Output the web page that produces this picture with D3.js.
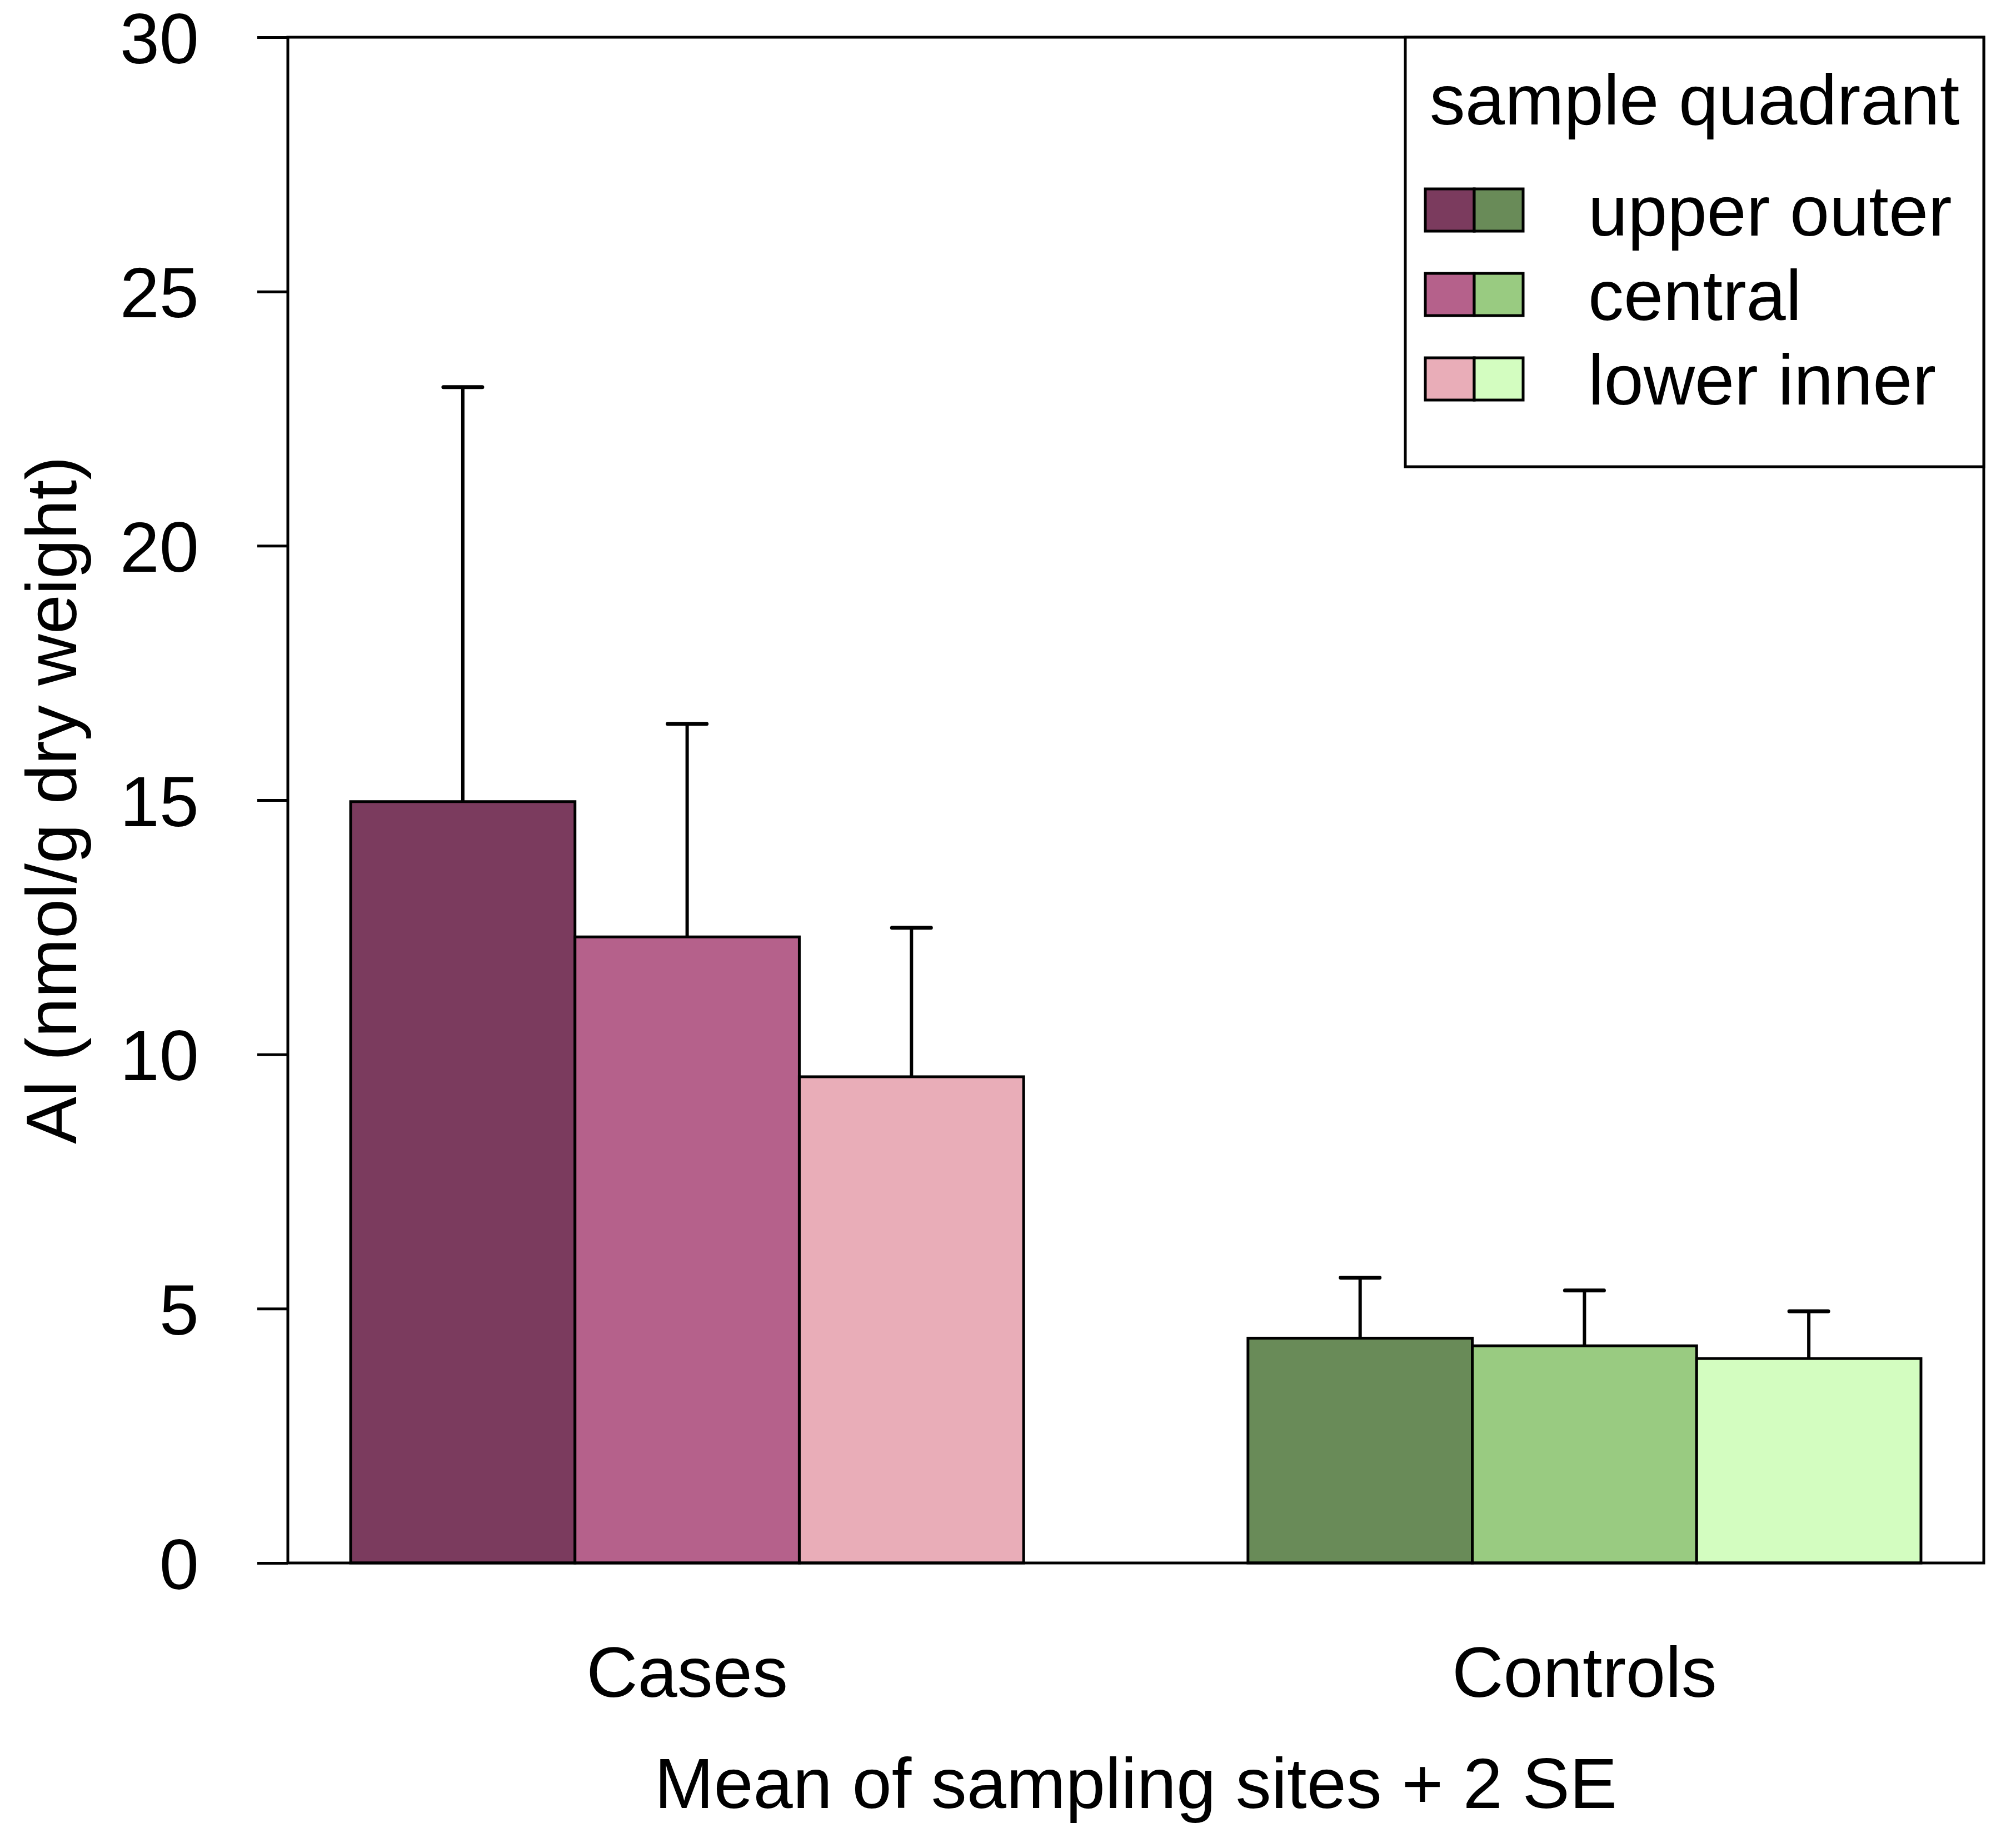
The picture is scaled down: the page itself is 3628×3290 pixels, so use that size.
<!DOCTYPE html>
<html>
<head>
<meta charset="utf-8">
<script src="https://cdn.jsdelivr.net/npm/d3@7"></script>
<style>
  html, body { margin: 0; padding: 0; background: #ffffff; }
  svg { display: block; }
  text { font-family: "Liberation Sans", Arial, Helvetica, sans-serif; fill: #000; }
</style>
</head>
<body>
<svg id="chart" width="3628" height="3290"></svg>
<script>
// ---- data ----
const categories = ["Cases", "Controls"];
const quadrants = ["upper outer", "central", "lower inner"];
const casesMeans = [14.97, 12.31, 9.56];
const casesUpper = [23.12, 16.50, 12.49];      // mean + 2 SE
const controlsMeans = [4.42, 4.27, 4.02];
const controlsUpper = [5.61, 5.36, 4.95];      // mean + 2 SE
const casesColors = ["#7b3b5e", "#b5618b", "#e9adb8"];
const controlsColors = ["#698b58", "#99cb81", "#d3fdc0"];
const yTicks = [0, 5, 10, 15, 20, 25, 30];
const yTitle = "Al (nmol/g dry weight)";
const xTitle = "Mean of sampling sites + 2 SE";
const legendTitle = "sample quadrant";

const means = [casesMeans, controlsMeans];
const uppers = [casesUpper, controlsUpper];
const colors = [casesColors, controlsColors];

// ---- layout ----
const plot = { left: 518, right: 3570, top: 67, bottom: 2813 };
const FS = 128;
const LW = 5;

const svg = d3.select("#chart");

const y = d3.scaleLinear().domain([0, 30]).range([plot.bottom, plot.top]);

// group scale: each group is 3 bar-units, gap of 1 unit, outer padding 0.28 unit
const x0 = d3.scaleBand().domain(categories)
  .range([plot.left, plot.right])
  .paddingInner(0.25).paddingOuter(0.07);
const x1 = d3.scaleBand().domain(quadrants).range([0, x0.bandwidth()]).padding(0);

// bars
const groups = svg.append("g").selectAll("g")
  .data(categories).join("g")
  .attr("transform", d => `translate(${x0(d)},0)`);

groups.each(function(cat, gi) {
  const g = d3.select(this);
  const data = quadrants.map((q, i) => ({ q, v: means[gi][i], u: uppers[gi][i], c: colors[gi][i] }));
  const capW = 70;
  data.forEach(d => {
    const cx = x1(d.q) + x1.bandwidth() / 2;
    g.append("line").attr("x1", cx).attr("x2", cx)
      .attr("y1", y(d.v)).attr("y2", y(d.u))
      .attr("stroke", "#000").attr("stroke-width", 6);
    g.append("line").attr("x1", cx - capW / 2).attr("x2", cx + capW / 2)
      .attr("y1", y(d.u)).attr("y2", y(d.u))
      .attr("stroke", "#000").attr("stroke-width", 7).attr("stroke-linecap", "round");
  });
  g.selectAll("rect").data(data).join("rect")
    .attr("x", d => x1(d.q))
    .attr("y", d => y(d.v))
    .attr("width", x1.bandwidth())
    .attr("height", d => y(0) - y(d.v))
    .attr("fill", d => d.c)
    .attr("stroke", "#000")
    .attr("stroke-width", 5);
});

// box around plot
svg.append("rect")
  .attr("x", plot.left).attr("y", plot.top)
  .attr("width", plot.right - plot.left).attr("height", plot.bottom - plot.top)
  .attr("fill", "none").attr("stroke", "#000").attr("stroke-width", LW);

// y axis
const yAxis = svg.append("g")
  .attr("transform", `translate(${plot.left},0)`)
  .call(d3.axisLeft(y).tickValues(yTicks).tickSize(55).tickPadding(105).tickFormat(d3.format("d")));
yAxis.select(".domain").remove();
yAxis.selectAll(".tick line").attr("stroke", "#000").attr("stroke-width", LW);
yAxis.selectAll(".tick text")
  .attr("font-size", FS).attr("font-family", "Liberation Sans, Arial, sans-serif")
  .attr("dy", "0.36em").attr("fill", "#000");

// x category labels
const xAxis = svg.append("g")
  .attr("transform", `translate(0,${plot.bottom})`)
  .call(d3.axisBottom(x0).tickSize(0).tickPadding(0));
xAxis.select(".domain").remove();
xAxis.selectAll(".tick text")
  .attr("font-size", FS).attr("font-family", "Liberation Sans, Arial, sans-serif")
  .attr("dy", null).attr("y", 3054 - plot.bottom).attr("fill", "#000");

// axis titles
svg.append("text")
  .attr("x", (plot.left + plot.right) / 2).attr("y", 3254)
  .attr("text-anchor", "middle").attr("font-size", FS)
  .text(xTitle);

svg.append("text")
  .attr("transform", `translate(137,${(plot.top + plot.bottom) / 2}) rotate(-90)`)
  .attr("text-anchor", "middle").attr("font-size", FS)
  .text(yTitle);

// legend
const leg = { left: 2529, top: plot.top, right: plot.right, bottom: 840 };
svg.append("rect")
  .attr("x", leg.left).attr("y", leg.top)
  .attr("width", leg.right - leg.left).attr("height", leg.bottom - leg.top)
  .attr("fill", "#fff").attr("stroke", "#000").attr("stroke-width", LW);

svg.append("text")
  .attr("x", (leg.left + leg.right) / 2).attr("y", 224)
  .attr("text-anchor", "middle").attr("font-size", FS)
  .text(legendTitle);

const rowY = d3.scalePoint().domain(quadrants).range([378, 682]);
const swW = 88, swH = 76, swX = 2565;
quadrants.forEach((q, i) => {
  const cy = rowY(q);
  svg.append("rect").attr("x", swX).attr("y", cy - swH / 2)
    .attr("width", swW).attr("height", swH)
    .attr("fill", casesColors[i]).attr("stroke", "#000").attr("stroke-width", 5);
  svg.append("rect").attr("x", swX + swW).attr("y", cy - swH / 2)
    .attr("width", swW).attr("height", swH)
    .attr("fill", controlsColors[i]).attr("stroke", "#000").attr("stroke-width", 5);
  svg.append("text").attr("x", 2858).attr("y", cy + 0.36 * FS)
    .attr("font-size", FS).text(q);
});
</script>
</body>
</html>
